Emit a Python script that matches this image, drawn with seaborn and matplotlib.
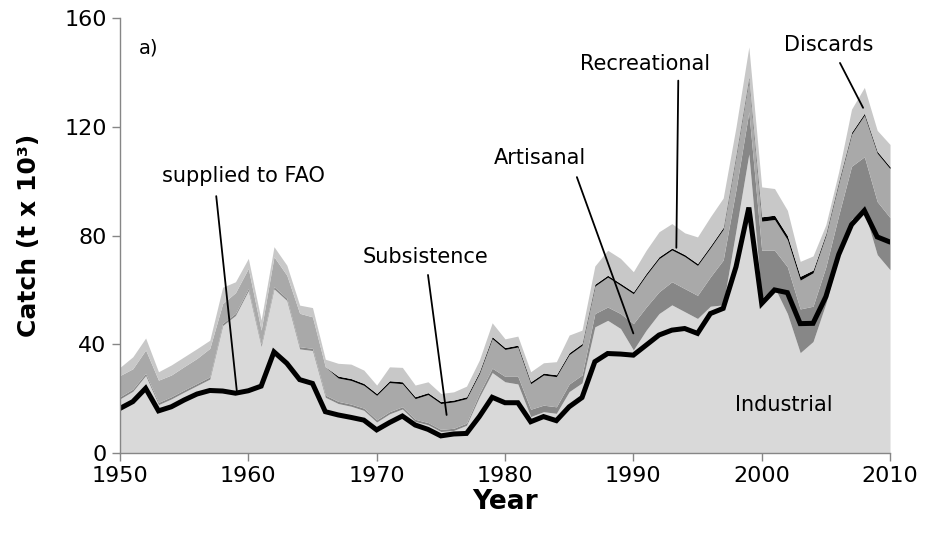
import matplotlib
matplotlib.use("Agg")
import matplotlib.pyplot as plt
import seaborn as sns
import pandas as pd

years = list(range(1950, 2011))

industrial = [19.9, 22.7, 28.5, 17.8, 19.9, 22.4, 24.8, 27.2, 46.9, 50.6,
              59.7, 39.2, 60.4, 56.1, 38.3, 37.7, 20.5, 18.2, 17.2, 15.7,
              11.4, 14.4, 16.2, 11.6, 10.4, 7.9, 8.3, 10.2, 20.6, 29.6,
              26.2, 25.4, 13.4, 15.2, 14.6, 22.6, 25.8, 46.4, 48.8, 45.8,
              37.9, 45.2, 51.3, 54.5, 52.0, 49.5, 54.0, 54.5, 82.0, 110.0,
              57.0, 61.0, 51.3, 36.9, 41.0, 55.0, 72.0, 86.0, 89.0, 73.0,
              67.4]
artisanal = [0.8, 0.8, 0.8, 0.8, 0.8, 0.8, 0.8, 0.8, 0.8, 0.8,
             0.8, 0.8, 0.8, 0.8, 0.8, 0.8, 0.8, 0.8, 0.8, 0.8,
             0.8, 0.8, 0.8, 0.8, 0.8, 0.8, 0.8, 0.8, 1.3, 1.6,
             2.0, 2.8, 2.7, 2.4, 2.4, 2.8, 2.9, 4.9, 4.9, 5.5,
             9.7, 8.5, 8.0, 8.5, 8.5, 8.5, 10.8, 16.5, 15.0, 15.5,
             17.6, 13.6, 17.2, 16.1, 13.0, 13.5, 15.5, 19.5, 20.0, 19.5,
             19.2]
subsistence = [7.8, 7.5, 8.6, 8.2, 8.0, 8.6, 9.2, 10.5, 7.3, 7.6,
               7.4, 5.2, 11.0, 8.5, 12.3, 11.6, 10.4, 8.6, 8.7, 8.4,
               9.0, 10.7, 8.5, 7.6, 10.3, 9.5, 9.7, 9.0, 7.3, 10.9,
               9.9, 10.8, 9.4, 11.1, 11.1, 10.8, 10.9, 10.1, 11.0, 10.4,
               11.0, 11.7, 12.2, 11.7, 11.8, 11.0, 10.7, 11.3, 12.3, 12.2,
               10.7, 11.3, 10.0, 10.6, 12.3, 11.6, 11.8, 11.8, 15.3, 17.8,
               18.0]
recreational = [0, 0, 0, 0, 0, 0, 0, 0, 0, 0,
                0, 0, 0, 0, 0, 0, 0, 0.7, 0.7, 0.7,
                0.7, 0.7, 0.7, 0.7, 0.7, 0.7, 0.7, 0.7, 0.7, 0.7,
                0.7, 0.7, 0.7, 0.7, 0.7, 0.7, 0.7, 0.7, 0.7, 0.7,
                0.7, 0.7, 0.7, 0.7, 0.7, 0.7, 0.7, 0.7, 0.7, 0.7,
                1.6, 1.6, 1.5, 1.4, 1.0, 0.7, 0.7, 0.7, 0.7, 0.7,
                0.7]
discards = [3.0, 4.4, 4.4, 3.1, 3.7, 3.6, 3.6, 3.0, 6.0, 4.0,
            3.7, 3.7, 3.7, 3.7, 3.0, 3.4, 2.8, 4.7, 5.3, 4.9,
            3.1, 5.1, 5.3, 4.3, 4.0, 3.0, 3.0, 3.9, 4.3, 5.1,
            3.2, 3.3, 3.7, 3.8, 4.8, 6.5, 4.9, 6.7, 9.2, 9.2,
            7.4, 8.5, 9.2, 9.0, 8.0, 9.8, 10.7, 10.8, 10.0, 11.0,
            11.0, 9.8, 9.3, 5.5, 5.2, 3.2, 3.5, 8.5, 9.5, 7.7,
            8.2]
fao = [16.4, 18.9, 23.8, 15.5, 17.0, 19.5, 21.7, 23.0, 22.8, 22.0,
       22.9, 24.6, 37.2, 33.0, 27.0, 25.6, 15.2, 14.0, 13.1, 12.1,
       8.5, 11.2, 13.6, 10.3, 8.7, 6.3, 7.0, 7.2, 13.4, 20.5,
       18.5, 18.5, 11.5, 13.4, 11.9, 17.0, 20.4, 33.6, 36.6, 36.4,
       36.0, 39.7, 43.4, 45.2, 45.8, 44.0, 51.3, 53.2, 68.5, 90.3,
       55.0, 60.0, 59.0, 47.6, 47.7, 57.5, 73.0, 84.0, 89.2, 79.5,
       77.6]

x_ticks = [1950, 1960, 1970, 1980, 1990, 2000, 2010]
y_ticks = [0, 40, 80, 120, 160]

sns.set_theme(style="ticks")
plt.rcParams['font.family'] = ['DejaVu Sans']

fig = plt.figure(figsize=(9.25, 5.45), dpi=100)
ax = fig.add_axes([0.1297, 0.1688, 0.8325, 0.798])

ax.stackplot(years, industrial, artisanal, subsistence, recreational, discards,
             colors=['#d9d9d9', '#878787', '#a9a9a9', '#000000', '#c8c8c8'],
             linewidth=0, antialiased=True)

df = pd.DataFrame({'Year': years, 'FAO': fao})
sns.lineplot(data=df, x='Year', y='FAO', color='black', linewidth=3.6, ax=ax,
             solid_joinstyle='miter')

ax.set_xlim(1950, 2010)
ax.set_ylim(0, 160)
ax.set_xticks(x_ticks)
ax.set_yticks(y_ticks)
ax.tick_params(axis='both', labelsize=16, colors='#868686', labelcolor='black',
               length=6, width=1, direction='out')
for s in ['top', 'right']:
    ax.spines[s].set_visible(False)
for s in ['left', 'bottom']:
    ax.spines[s].set_color('#868686')
    ax.spines[s].set_linewidth(1)

ax.set_xlabel('Year', fontsize=19, fontweight='bold', labelpad=2, color='black')
ax.set_ylabel('Catch (t x 10³)', fontsize=18, fontweight='bold', labelpad=17,
              color='black')

fs = 15
ax.text(1952.2, 149, 'a)', fontsize=14, ha='center', va='center', color='black')
ax.text(1959.6, 102, 'supplied to FAO', fontsize=fs, ha='center', va='center', color='black')
ax.plot([1957.5, 1959.1], [94.5, 23.0], color='black', lw=1.3)
ax.text(1973.8, 72, 'Subsistence', fontsize=fs, ha='center', va='center', color='black')
ax.plot([1974.0, 1975.45], [65.5, 14.0], color='black', lw=1.3)
ax.text(1982.7, 108.5, 'Artisanal', fontsize=fs, ha='center', va='center', color='black')
ax.plot([1985.6, 1990.0], [101.5, 44.0], color='black', lw=1.3)
ax.text(1990.9, 143, 'Recreational', fontsize=fs, ha='center', va='center', color='black')
ax.plot([1993.5, 1993.35], [137.0, 75.5], color='black', lw=1.3)
ax.text(2005.2, 150, 'Discards', fontsize=fs, ha='center', va='center', color='black')
ax.plot([2006.1, 2007.9], [143.5, 127.0], color='black', lw=1.3)
ax.text(2001.7, 17.6, 'Industrial', fontsize=fs, ha='center', va='center', color='black')

fig.savefig('out.png', dpi=100)
